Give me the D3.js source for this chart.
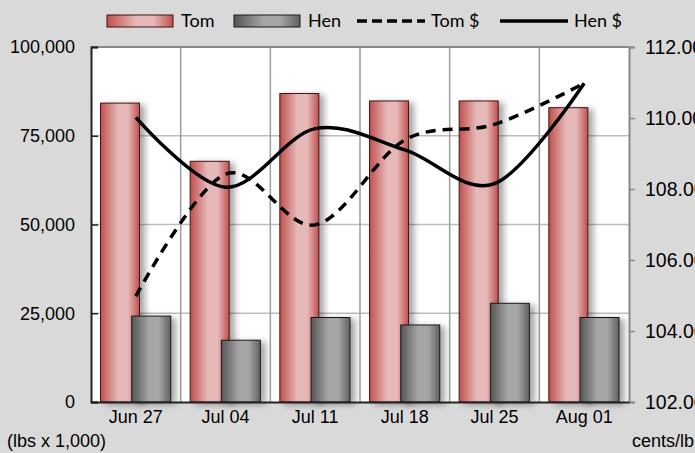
<!DOCTYPE html>
<html>
<head>
<meta charset="utf-8">
<script src="https://cdn.jsdelivr.net/npm/d3@7"></script>
<style>
  body { margin: 0; background: #d9d9d9; }
  svg { display: block; }
  .ax text { font-family: "Liberation Sans", Arial, sans-serif; font-size: 18px; fill: #000; }
  .ax .right text { font-size: 19.5px; }
  .leg text { font-family: Lato, "Noto Sans", sans-serif; font-size: 18px; fill: #000; }
</style>
</head>
<body>
<svg id="chart" width="695" height="453"></svg>
<script>
// data
const weeks = ["Jun 27", "Jul 04", "Jul 11", "Jul 18", "Jul 25", "Aug 01"];
const tomLbs = [84200, 67800, 86900, 84800, 84800, 82900];
const henLbs = [24200, 17400, 23800, 21700, 27800, 23800];
const tomPrice = [104.98, 108.42, 106.99, 109.38, 109.82, 110.98];
const henPrice = [110.02, 108.05, 109.70, 109.10, 108.15, 110.98];
const leftTicks = [0, 25000, 50000, 75000, 100000];
const rightTicks = [102, 104, 106, 108, 110, 112];

const svg = d3.select("#chart");
const L = 91, R = 629, T = 47, B = 402;

const x = d3.scaleBand().domain(weeks).range([L, R]).padding(0);
const yL = d3.scaleLinear().domain([0, 100000]).range([B, T]);
const yR = d3.scaleLinear().domain([102, 112]).range([B, T]);

const defs = svg.append("defs");
function hgrad(id, edge, mid, edge2) {
  const g = defs.append("linearGradient").attr("id", id).attr("x1", 0).attr("x2", 1).attr("y1", 0).attr("y2", 0);
  g.append("stop").attr("offset", "0%").attr("stop-color", edge);
  g.append("stop").attr("offset", "45%").attr("stop-color", mid);
  g.append("stop").attr("offset", "70%").attr("stop-color", mid);
  g.append("stop").attr("offset", "100%").attr("stop-color", edge2);
}
hgrad("gTom", "#c0504d", "#e6b9b8", "#c0504d");
hgrad("gHen", "#555555", "#a6a6a6", "#606060");
const f = defs.append("filter").attr("id", "shadow").attr("x", "-20%").attr("y", "-10%").attr("width", "160%").attr("height", "130%");
f.append("feDropShadow").attr("dx", 5).attr("dy", 2).attr("stdDeviation", 3)
  .attr("flood-color", "#000").attr("flood-opacity", 0.35);

// plot area
svg.append("rect").attr("x", L).attr("y", T).attr("width", R - L).attr("height", B - T).attr("fill", "#fff");

// grid
svg.append("g").selectAll("line").data(leftTicks.slice(1, -1)).join("line")
  .attr("x1", L).attr("x2", R).attr("y1", d => yL(d)).attr("y2", d => yL(d))
  .attr("stroke", "#bdbdbd").attr("stroke-width", 1.5);
svg.append("g").selectAll("line").data(weeks.slice(1)).join("line")
  .attr("x1", d => x(d)).attr("x2", d => x(d)).attr("y1", T).attr("y2", B)
  .attr("stroke", "#9d9d9d").attr("stroke-width", 1.5);

// top border
svg.append("line").attr("x1", L).attr("x2", R).attr("y1", T).attr("y2", T).attr("stroke", "#888").attr("stroke-width", 2);

// bars
const bw = x.bandwidth();
svg.append("g").selectAll("rect").data(tomLbs).join("rect")
  .attr("x", (d, i) => x(weeks[i]) + bw * 0.106)
  .attr("width", bw * 0.435)
  .attr("y", d => yL(d)).attr("height", d => B - yL(d))
  .attr("fill", "url(#gTom)").attr("stroke", "#3f1414").attr("stroke-width", 1)
  .attr("filter", "url(#shadow)");
svg.append("g").selectAll("rect").data(henLbs).join("rect")
  .attr("x", (d, i) => x(weeks[i]) + bw * 0.454)
  .attr("width", bw * 0.435)
  .attr("y", d => yL(d)).attr("height", d => B - yL(d))
  .attr("fill", "url(#gHen)").attr("stroke", "#1a1a1a").attr("stroke-width", 1)
  .attr("filter", "url(#shadow)");

// price lines
const cx = i => x(weeks[i]) + bw / 2;
const line = d3.line().x((d, i) => cx(i)).y(d => yR(d)).curve(d3.curveCardinal.tension(0));
svg.append("path").datum(tomPrice).attr("d", line).attr("fill", "none")
  .attr("stroke", "#000").attr("stroke-width", 3.5).attr("stroke-dasharray", "10,7");
svg.append("path").datum(henPrice).attr("d", line).attr("fill", "none")
  .attr("stroke", "#000").attr("stroke-width", 3.5);

// axes
const ax = svg.append("g").attr("class", "ax");
ax.append("g").attr("transform", `translate(${L},0)`)
  .call(d3.axisLeft(yL).tickValues(leftTicks).tickFormat(d3.format(",")).tickSize(-7).tickPadding(16))
  .call(g => g.select(".domain").attr("stroke", "#222").attr("stroke-width", 2))
  .call(g => g.selectAll(".tick line").attr("stroke", "#222").attr("stroke-width", 1.5));
ax.append("g").attr("class", "right").attr("transform", `translate(${R},0)`)
  .call(d3.axisRight(yR).tickValues(rightTicks).tickFormat(d3.format(".2f")).tickSize(6).tickPadding(10))
  .call(g => g.select(".domain").attr("stroke", "#888").attr("stroke-width", 2))
  .call(g => g.selectAll(".tick line").attr("stroke", "#888").attr("stroke-width", 1.5));
ax.append("g").attr("transform", `translate(0,${B})`)
  .call(d3.axisBottom(x).tickSize(0).tickPadding(8))
  .call(g => g.select(".domain").attr("stroke", "#222").attr("stroke-width", 2));
ax.selectAll("g").attr("font-family", null).attr("font-size", null);

ax.append("text").attr("x", 7).attr("y", 447).text("(lbs x 1,000)");
ax.append("text").attr("x", 632).attr("y", 447).text("cents/lb");

// legend
const leg = svg.append("g").attr("class", "leg");
const items = [
  { name: "Tom", type: "bar", fill: "url(#gTom)", stroke: "#3f1414", x: 107 },
  { name: "Hen", type: "bar", fill: "url(#gHen)", stroke: "#1a1a1a", x: 234 },
  { name: "Tom $", type: "dash", x: 357 },
  { name: "Hen $", type: "solid", x: 500 }
];
items.forEach(it => {
  if (it.type === "bar") {
    leg.append("rect").attr("x", it.x).attr("y", 15).attr("width", 66).attr("height", 12)
      .attr("fill", it.fill).attr("stroke", it.stroke);
  } else {
    leg.append("line").attr("x1", it.x).attr("x2", it.x + 68).attr("y1", 21).attr("y2", 21)
      .attr("stroke", "#000").attr("stroke-width", 3.5)
      .attr("stroke-dasharray", it.type === "dash" ? "10,5" : null);
  }
  leg.append("text").attr("x", it.x + 74).attr("y", 27).text(it.name);
});
</script>
</body>
</html>
